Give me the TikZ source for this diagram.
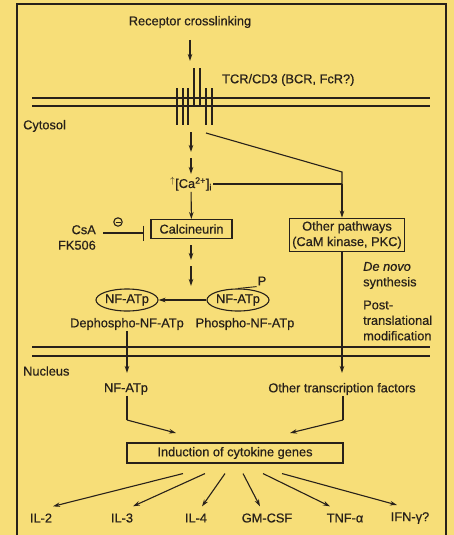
\documentclass[tikz,border=0pt]{standalone}
\usepackage{fontspec}
\setmainfont{Liberation Sans}[FakeBold=0.6]
\usetikzlibrary{arrows.meta,shapes.geometric,calc}
\definecolor{bg}{RGB}{247,222,120}
\definecolor{ink}{RGB}{40,33,26}
\begin{document}
\begin{tikzpicture}[x=1pt,y=-1pt,
  every node/.style={font=\fontsize{12.8}{15.5}\selectfont, text=ink, inner sep=1pt},
  line/.style={draw=ink, line width=1.1pt},
  arr/.style={line, -{Stealth[length=7pt,width=4.5pt]}},
  inh/.style={line, -{Bar[width=15pt]}},
  box/.style={draw=ink, line width=1.1pt, inner sep=4pt},
  ell/.style={ellipse, draw=ink, line width=1.1pt, minimum width=50pt, minimum height=22pt, inner sep=0pt},
  memb/.style={draw=ink, line width=1.1pt},
  rec/.style={draw=ink, line width=1.1pt}]
\fill[bg] (0,0) rectangle (454,535);
\useasboundingbox (0,0) rectangle (454,535);
% frame
\draw[ink, line width=2.4pt] (17,545) -- (17,4) -- (446,4) -- (446,545);
% membranes
\draw[memb] (32,98) -- (430,98);
\draw[memb] (32,106) -- (430,106);
\draw[memb] (32,347) -- (430,347);
\draw[memb] (32,356) -- (430,356);
% receptor
\foreach \x in {177,183,188,206,212} \draw[rec] (\x,88) -- (\x,125);
\foreach \x in {194,200} \draw[rec] (\x,68) -- (\x,106);

% nodes
\node (recep) at (190,22) {Receptor crosslinking};
\node[anchor=west] (tcr) at (221,80) {TCR/CD3 (BCR, FcR?)};
\node[anchor=west] (cyt) at (22,126) {Cytosol};
\node (ca) at (191,184) {\textsuperscript{$\uparrow$}[Ca\textsuperscript{2+}]\textsubscript{i}};
\node[box, minimum width=81pt, minimum height=19pt] (calc) at (191.5,229) {Calcineurin};
\node[align=right, anchor=east] (csa) at (97,237.5) {CsA\\FK506};
\node[box, align=center, inner sep=3pt] (other) at (347,235) {Other pathways\\(CaM kinase, PKC)};
\node[ell] (dnf) at (127,300) {NF-ATp};
\node[ell] (pnf) at (238,300) {NF-ATp};
\node (dlab) at (127,324) {Dephospho-NF-ATp};
\node (plab) at (245,324) {Phospho-NF-ATp};
\node (P) at (262,281) {P};
\node[anchor=west, align=left] (denovo) at (362,275.5) {\textit{De novo}\\synthesis};
\node[anchor=west, align=left] (post) at (362,320.5) {Post-\\translational\\modification};
\node[anchor=west] (nuc) at (22,371) {Nucleus};
\node (nnf) at (126,389) {NF-ATp};
\node (otf) at (342,389) {Other transcription factors};
\node[box, minimum width=216pt, minimum height=20pt] (ind) at (235,453) {Induction of cytokine genes};
\node (il2) at (41,518) {IL-2};
\node (il3) at (122,518) {IL-3};
\node (il4) at (196,518) {IL-4};
\node (gm) at (267,518) {GM-CSF};
\node (tnf) at (345,518) {TNF-α};
\node (ifn) at (410,518) {IFN-γ?};

% coordinates
\coordinate (r0) at (190,40);
\coordinate (r1) at (190,61);
\coordinate (a0) at (191,132);
\coordinate (a1) at (191,152);
\coordinate (a2) at (191,158);
\coordinate (a3) at (191,174);
\coordinate (d0) at (206,133);
\coordinate (d1) at (342,172);
\coordinate (j) at (342,184);
\coordinate (c0) at (191,245);
\coordinate (c1) at (191,260);
\coordinate (c2) at (191,266);
\coordinate (c3) at (191,286);
\coordinate (o1) at (342,373);
\coordinate (n1) at (127,373);
\coordinate (lk) at (127,420);
\coordinate (li) at (176,433);
\coordinate (rk) at (343,420);
\coordinate (ri) at (290,433);
\coordinate (i0) at (103,233);
\coordinate (i1) at (144,233);

% connectors
\draw[arr] (r0) -- (r1);
\draw[arr] (a0) -- (a1);
\draw[arr] (a2) -- (a3);
\draw[arr] (ca) -- (calc);
\draw[line] (d0) -- (d1) -- (j);
\draw[arr] (j) -- (other.north -| j);
\draw[line] (ca.east) -- (j);
\draw[inh] (i0) -- (i1);
\draw[line] (118,222) circle (4.2pt);
\draw[line, line width=0.8pt] (115.5,222) -- (120.5,222);
\draw[arr] (c0) -- (c1);
\draw[arr] (c2) -- (c3);
\draw[arr] (pnf) -- (dnf);
\draw[line, line width=0.9pt] (P.south west) -- (pnf.north);
\draw[arr] (other.south -| j) -- (o1);
\draw[arr] (dlab.south) -- (n1);
\draw[line] (nnf.south -| lk) -- (lk);
\draw[arr] (lk) -- (li);
\draw[line] (otf.south -| rk) -- (rk);
\draw[arr] (rk) -- (ri);
\draw[arr] ($(ind.south)+(-52,10)$) -- ($(il2.north)+(12,-6)$);
\draw[arr] ($(ind.south)+(-30,10)$) -- ($(il3.north)+(11,-6)$);
\draw[arr] ($(ind.south)+(-10,10)$) -- ($(il4.north)+(6,-6)$);
\draw[arr] ($(ind.south)+(8,10)$) -- ($(gm.north)+(-7,-6)$);
\draw[arr] ($(ind.south)+(28,10)$) -- ($(tnf.north)+(-15,-6)$);
\draw[arr] ($(ind.south)+(47,10)$) -- ($(ifn.north)+(-13,-6)$);
\end{tikzpicture}
\end{document}
